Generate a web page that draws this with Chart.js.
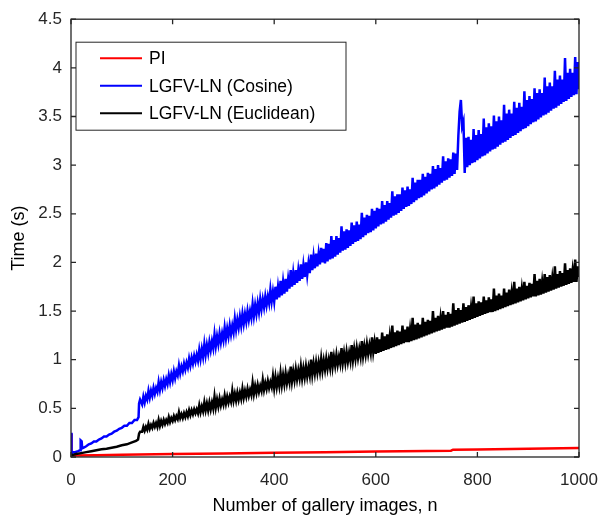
<!DOCTYPE html>
<html>
<head>
<meta charset="utf-8">
<script src="https://cdn.jsdelivr.net/npm/chart.js@4.4.0/dist/chart.umd.min.js"></script>
<style>
  html, body { margin: 0; padding: 0; background: #fff; }
  #wrap { width: 602px; height: 515px; }
</style>
</head>
<body>
<div id="wrap"><canvas id="myChart"></canvas></div>
<script>
// legend names + colours (same order as the legend box)
const seriesNames = ['PI', 'LGFV-LN (Cosine)', 'LGFV-LN (Euclidean)'];
const seriesColors = ['#ff0000', '#0000ff', '#000000'];

const xTicks = [0, 200, 400, 600, 800, 1000];
const yTicks = [0, 0.5, 1, 1.5, 2, 2.5, 3, 3.5, 4, 4.5];

// PI: [n, time] pairs
const piPoints = [
  [0,0.24],[1,0.03],[4,0.015],[50,0.018],[100,0.022],[200,0.03],[300,0.037],[400,0.044],
  [500,0.05],[600,0.056],[700,0.062],[748,0.065],[752,0.075],[800,0.078],[900,0.085],[1000,0.092]
];

// smooth start of the two LGFV-LN curves (before the jump at n~134)
const cosineStart = [
  [0,0.25],[1,0.03],[3,0.05],[8,0.05],[14,0.06],[18,0.07],[19,0.17],[21,0.16],[22,0.09],[26,0.10],
  [30,0.11],[35,0.13],[40,0.14],[45,0.16],[50,0.16],[55,0.18],[60,0.19],[65,0.21],[70,0.21],[75,0.23],
  [80,0.24],[85,0.26],[90,0.27],[95,0.29],[100,0.30],[105,0.32],[110,0.32],[115,0.35],[120,0.35],[125,0.38],
  [130,0.38],[133,0.41],[134,0.55],[136,0.59]
];
const euclidStart = [
  [0,0.0],[2,0.02],[10,0.03],[20,0.04],[30,0.05],[40,0.06],[50,0.07],[60,0.08],[70,0.085],[80,0.095],
  [90,0.105],[100,0.12],[110,0.13],[120,0.15],[128,0.165],[132,0.18],[134,0.24],[136,0.26]
];

// noisy part: gallery sizes and the timings read at each of them
const noisyN = [
  140,142.5,145,147.5,150,152.5,155,157.5,160,162.5,165,167.5,170,172.5,175,177.5,180,182.5,185,187.5,
  190,192.5,195,197.5,200,202.5,205,207.5,210,212.5,215,217.5,220,222.5,225,227.5,230,232.5,235,237.5,
  240,242.5,245,247.5,250,252.5,255,257.5,260,262.5,265,267.5,270,272.5,275,277.5,280,282.5,285,287.5,
  290,292.5,295,297.5,300,302.5,305,307.5,310,312.5,315,317.5,320,322.5,325,327.5,330,332.5,335,337.5,
  340,342.5,345,347.5,350,352.5,355,357.5,360,362.5,365,367.5,370,372.5,375,377.5,380,382.5,385,387.5,
  390,392.5,395,397.5,400,402.5,405,407.5,410,412.5,415,417.5,420,422.5,425,427.5,430,432.5,435,437.5,
  440,442.5,445,447.5,450,452.5,455,457.5,460,462.5,465,467.5,470,472.5,475,477.5,480,482.5,485,487.5,
  490,492.5,495,497.5,500,502.5,505,507.5,510,512.5,515,517.5,520,522.5,525,527.5,530,532.5,535,537.5,
  540,542.5,545,547.5,550,552.5,555,557.5,560,562.5,565,567.5,570,572.5,575,577.5,580,582.5,585,587.5,
  590,592.5,595,597.5,600,602.5,605,607.5,610,612.5,615,617.5,620,622.5,625,627.5,630,632.5,635,637.5,
  640,642.5,645,647.5,650,652.5,655,657.5,660,662.5,665,667.5,670,672.5,675,677.5,680,682.5,685,687.5,
  690,692.5,695,697.5,700,702.5,705,707.5,710,712.5,715,717.5,720,722.5,725,727.5,730,732.5,735,737.5,
  740,742.5,745,747.5,750,752.5,755,757.5,760,762.5,765,767.5,770,772.5,775,777.5,780,782.5,785,787.5,
  790,792.5,795,797.5,800,802.5,805,807.5,810,812.5,815,817.5,820,822.5,825,827.5,830,832.5,835,837.5,
  840,842.5,845,847.5,850,852.5,855,857.5,860,862.5,865,867.5,870,872.5,875,877.5,880,882.5,885,887.5,
  890,892.5,895,897.5,900,902.5,905,907.5,910,912.5,915,917.5,920,922.5,925,927.5,930,932.5,935,937.5,
  940,942.5,945,947.5,950,952.5,955,957.5,960,962.5,965,967.5,970,972.5,975,977.5,980,982.5,985,987.5,
  990,992.5,995,997.5,1000
];

const cosineNoisy = [
  0.54,0.62,0.56,0.63,0.59,0.68,0.61,0.68,0.63,0.71,0.65,0.71,0.67,0.77,0.69,0.77,0.71,0.79,0.73,0.80,
  0.75,0.84,0.77,0.85,0.79,0.88,0.81,0.88,0.84,0.94,0.86,0.93,0.88,0.96,0.90,0.97,0.92,1.01,0.94,1.02,
  0.96,1.04,0.98,1.05,0.99,1.10,1.01,1.11,1.03,1.16,1.05,1.15,1.07,1.18,1.10,1.19,1.12,1.26,1.14,1.24,
  1.16,1.27,1.18,1.27,1.20,1.33,1.22,1.32,1.24,1.35,1.26,1.35,1.28,1.42,1.31,1.41,1.33,1.44,1.35,1.47,
  1.37,1.47,1.39,1.50,1.41,1.50,1.43,1.57,1.45,1.56,1.47,1.58,1.49,1.62,1.52,1.62,1.54,1.65,1.56,1.65,
  1.58,1.72,1.60,1.70,1.60,1.75,1.62,1.75,1.64,1.81,1.66,1.80,1.68,1.83,1.70,1.83,1.73,1.92,1.75,1.89,
  1.77,1.92,1.79,1.92,1.81,1.98,1.83,1.97,1.85,2.00,1.87,1.99,1.89,2.08,1.92,2.06,1.94,2.09,1.96,2.09,
  1.98,2.15,2.00,2.14,1.99,2.20,2.01,2.19,2.03,2.27,2.04,2.23,2.06,2.27,2.08,2.25,2.10,2.37,2.12,2.32,
  2.13,2.34,2.15,2.33,2.17,2.41,2.19,2.38,2.21,2.42,2.22,2.39,2.24,2.51,2.26,2.46,2.28,2.49,2.30,2.48,
  2.31,2.55,2.33,2.53,2.35,2.56,2.37,2.55,2.39,2.63,2.40,2.59,2.42,2.63,2.44,2.61,2.46,2.73,2.48,2.68,
  2.49,2.70,2.51,2.70,2.53,2.77,2.55,2.74,2.57,2.78,2.58,2.75,2.60,2.87,2.62,2.82,2.64,2.85,2.66,2.85,
  2.67,2.91,2.69,2.88,2.71,2.92,2.73,2.91,2.75,2.99,2.76,2.96,2.78,3.00,2.80,2.97,2.82,3.09,2.84,3.04,
  2.85,3.07,2.87,3.06,2.89,3.13,2.91,3.12,2.95,3.30,3.55,3.67,3.40,3.45,2.92,3.28,2.98,3.29,3.00,3.26,
  3.02,3.37,3.03,3.31,3.05,3.36,3.07,3.32,3.09,3.48,3.10,3.39,3.12,3.43,3.14,3.40,3.16,3.51,3.17,3.45,
  3.19,3.50,3.21,3.46,3.23,3.62,3.24,3.53,3.26,3.57,3.28,3.53,3.30,3.65,3.31,3.59,3.33,3.64,3.35,3.60,
  3.37,3.76,3.38,3.67,3.40,3.71,3.42,3.68,3.44,3.79,3.45,3.74,3.47,3.78,3.49,3.74,3.51,3.90,3.52,3.81,
  3.54,3.85,3.56,3.81,3.58,3.97,3.59,3.88,3.61,3.92,3.63,3.88,3.65,4.10,3.66,3.95,3.68,3.99,3.70,3.95,
  3.72,4.11,3.73,4.06,3.78
];

const euclidNoisy = [
  0.26,0.31,0.27,0.31,0.28,0.34,0.29,0.33,0.30,0.35,0.31,0.35,0.31,0.38,0.32,0.37,0.33,0.38,0.34,0.38,
  0.35,0.41,0.36,0.40,0.37,0.42,0.38,0.42,0.39,0.46,0.40,0.44,0.40,0.45,0.41,0.46,0.42,0.48,0.43,0.48,
  0.44,0.49,0.45,0.49,0.45,0.53,0.46,0.52,0.47,0.56,0.48,0.55,0.48,0.56,0.49,0.56,0.50,0.62,0.51,0.59,
  0.52,0.60,0.53,0.59,0.54,0.63,0.55,0.62,0.56,0.62,0.57,0.68,0.58,0.65,0.58,0.66,0.59,0.66,0.60,0.70,
  0.61,0.68,0.62,0.70,0.63,0.69,0.64,0.76,0.65,0.73,0.66,0.74,0.67,0.73,0.68,0.79,0.69,0.76,0.70,0.78,
  0.71,0.77,0.72,0.83,0.71,0.82,0.72,0.81,0.73,0.86,0.74,0.84,0.75,0.86,0.76,0.84,0.77,0.93,0.78,0.88,
  0.79,0.90,0.80,0.89,0.81,0.93,0.81,0.91,0.82,0.93,0.83,0.92,0.84,1.00,0.85,0.96,0.86,0.97,0.87,0.97,
  0.88,1.01,0.89,0.99,0.90,1.01,0.91,1.00,0.92,1.08,0.93,1.03,0.94,1.05,0.95,1.03,0.96,1.12,0.97,1.07,
  0.97,1.08,0.98,1.07,0.99,1.15,1.00,1.11,1.01,1.12,1.02,1.11,1.03,1.19,1.04,1.14,1.05,1.16,1.06,1.15,
  1.07,1.23,1.08,1.18,1.06,1.23,1.07,1.21,1.08,1.28,1.09,1.24,1.10,1.26,1.11,1.24,1.12,1.35,1.13,1.28,
  1.14,1.30,1.15,1.29,1.16,1.35,1.17,1.31,1.18,1.34,1.18,1.31,1.19,1.43,1.20,1.36,1.21,1.38,1.22,1.36,
  1.23,1.43,1.24,1.39,1.25,1.41,1.26,1.40,1.27,1.50,1.28,1.43,1.29,1.45,1.30,1.43,1.31,1.50,1.32,1.46,
  1.33,1.49,1.33,1.47,1.34,1.58,1.35,1.51,1.36,1.53,1.37,1.51,1.38,1.58,1.39,1.54,1.40,1.56,1.41,1.54,
  1.42,1.65,1.43,1.58,1.44,1.60,1.45,1.59,1.46,1.65,1.47,1.61,1.48,1.64,1.49,1.62,1.49,1.73,1.50,1.66,
  1.51,1.68,1.52,1.66,1.53,1.73,1.54,1.69,1.55,1.72,1.56,1.69,1.57,1.80,1.58,1.73,1.59,1.75,1.60,1.73,
  1.61,1.80,1.62,1.76,1.63,1.79,1.64,1.78,1.65,1.88,1.65,1.81,1.66,1.83,1.67,1.80,1.68,1.88,1.69,1.85,
  1.70,1.87,1.71,1.84,1.72,1.96,1.73,1.88,1.74,1.91,1.75,1.89,1.76,1.99,1.77,1.92,1.78,1.94,1.79,1.92,
  1.80,2.03,1.80,1.96,1.85
];

const FONT = "'Liberation Sans', Arial, sans-serif";
const AXIS_COLOR = '#262626';

const toXY = (start, noisy) =>
  start.map(p => ({ x: p[0], y: p[1] })).concat(noisyN.map((n, i) => ({ x: n, y: noisy[i] })));

// box round the plot + inward ticks on all four sides (matlab look)
const boxPlugin = {
  id: 'boxPlugin',
  afterDatasetsDraw(chart) {
    const { ctx, chartArea: a, scales } = chart;
    ctx.save();
    ctx.strokeStyle = AXIS_COLOR;
    ctx.lineWidth = 1.3;
    ctx.strokeRect(a.left, a.top, a.right - a.left, a.bottom - a.top);
    ctx.beginPath();
    xTicks.forEach(v => {
      const px = scales.x.getPixelForValue(v);
      ctx.moveTo(px, a.bottom); ctx.lineTo(px, a.bottom - 5);
      ctx.moveTo(px, a.top); ctx.lineTo(px, a.top + 5);
    });
    yTicks.forEach(v => {
      const py = scales.y.getPixelForValue(v);
      ctx.moveTo(a.left, py); ctx.lineTo(a.left + 5, py);
      ctx.moveTo(a.right, py); ctx.lineTo(a.right - 5, py);
    });
    ctx.stroke();
    ctx.restore();
  },
  afterDraw(chart) {
    // legend box in the top-left corner of the axes
    const { ctx, chartArea: a } = chart;
    const left = a.left + 5, top = a.top + 23, w = 270, h = 88;
    ctx.save();
    ctx.fillStyle = '#fff';
    ctx.fillRect(left, top, w, h);
    ctx.strokeStyle = AXIS_COLOR;
    ctx.lineWidth = 1;
    ctx.strokeRect(left, top, w, h);
    ctx.font = '17.5px ' + FONT;
    ctx.textBaseline = 'middle';
    seriesNames.forEach((name, i) => {
      const yy = top + 16 + i * 27.5;
      ctx.strokeStyle = seriesColors[i];
      ctx.lineWidth = 2;
      ctx.beginPath();
      ctx.moveTo(left + 24, yy);
      ctx.lineTo(left + 66, yy);
      ctx.stroke();
      ctx.fillStyle = '#000';
      ctx.fillText(name, left + 73, yy + 1);
    });
    ctx.restore();
  }
};

new Chart(document.getElementById('myChart'), {
  type: 'line',
  data: {
    datasets: [
      { label: seriesNames[0], data: piPoints.map(p => ({ x: p[0], y: p[1] })), borderColor: seriesColors[0], borderWidth: 2.5, order: 3 },
      { label: seriesNames[1], data: toXY(cosineStart, cosineNoisy), borderColor: seriesColors[1], borderWidth: 2.5, order: 2 },
      { label: seriesNames[2], data: toXY(euclidStart, euclidNoisy), borderColor: seriesColors[2], borderWidth: 2.5, order: 1 }
    ]
  },
  options: {
    responsive: true,
    maintainAspectRatio: false,
    animation: false,
    elements: { point: { radius: 0 }, line: { tension: 0 } },
    layout: { padding: { left: 0, top: 18, right: 23, bottom: 0 } },
    plugins: { legend: { display: false }, tooltip: { enabled: false } },
    scales: {
      x: {
        type: 'linear',
        min: 0,
        max: 1000,
        afterBuildTicks: s => { s.ticks = xTicks.map(v => ({ value: v })); },
        // fixed height, and no extra side padding for the end labels
        afterFit: s => { s.height = 58; s.paddingLeft = 0; s.paddingRight = 0; },
        grid: { display: false, drawTicks: false },
        border: { display: false },
        ticks: { color: AXIS_COLOR, font: { family: FONT, size: 17 }, padding: 13, maxRotation: 0, callback: v => String(v) },
        title: {
          display: true,
          text: 'Number of gallery images, n',
          color: '#000',
          font: { family: FONT, size: 18, lineHeight: 1 },
          padding: { top: 0, bottom: 0 }
        }
      },
      y: {
        type: 'linear',
        min: 0,
        max: 4.5,
        afterBuildTicks: s => { s.ticks = yTicks.map(v => ({ value: v })); },
        afterFit: s => { s.width = 71; },
        grid: { display: false, drawTicks: false },
        border: { display: false },
        ticks: { color: AXIS_COLOR, font: { family: FONT, size: 17 }, padding: 9, callback: v => String(v) },
        title: {
          display: true,
          text: 'Time (s)',
          color: '#000',
          font: { family: FONT, size: 18, lineHeight: 1 },
          padding: { top: 10, bottom: 0 }
        }
      }
    }
  },
  plugins: [boxPlugin]
});
</script>
</body>
</html>
